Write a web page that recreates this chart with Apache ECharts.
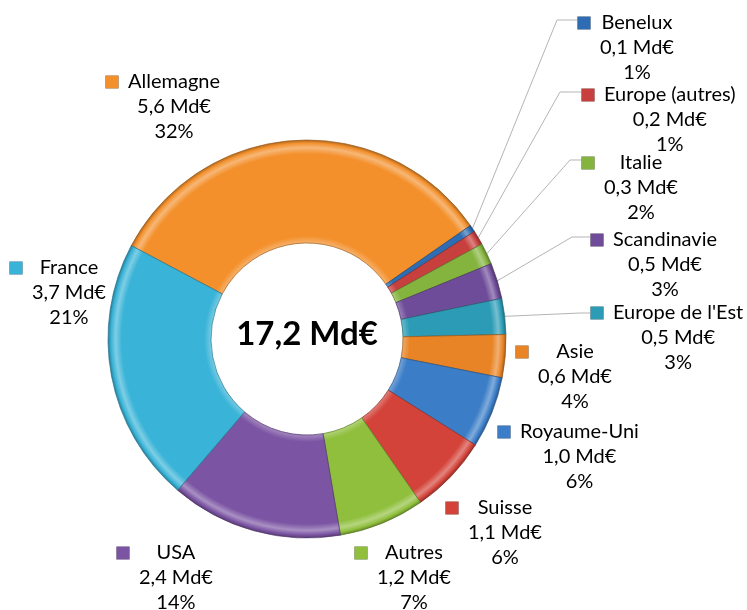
<!DOCTYPE html>
<html>
<head>
<meta charset="utf-8">
<script src="https://cdn.jsdelivr.net/npm/echarts@6/dist/echarts.min.js"></script>
<style>
    html, body { margin: 0; background: #fff; }
    #chart { width: 747px; height: 610px; }
</style>
</head>
<body>
<div id="chart"></div>
<script>
// data, clockwise from the Allemagne slice
const categories = ["Allemagne", "Benelux", "Europe (autres)", "Italie", "Scandinavie", "Europe de l'Est",
    "Asie", "Royaume-Uni", "Suisse", "Autres", "USA", "France"];
const valuesMd = [5.6, 0.1, 0.2, 0.3, 0.5, 0.5, 0.6, 1.0, 1.1, 1.2, 2.4, 3.7];
const pctLabels = ["32%", "1%", "1%", "2%", "3%", "3%", "4%", "6%", "6%", "7%", "14%", "21%"];
const totalLabel = "17,2 Md€";

// styling / placement (not data)
const sliceColors = ["#F3902C", "#2E6DB4", "#C8403D", "#84B33E", "#6F4C99", "#2C9CB6",
    "#E88426", "#3B7DC7", "#D34339", "#8FBF3C", "#7B54A3", "#39B3D7"];
const labelAnchors = [[106, 82], [578, 23], [582, 95], [582, 163], [591, 240], [591, 313],
    [516, 352], [498, 432], [446, 508], [355, 553], [117, 553], [10, 268]];
const leaderElbowX = [null, 557, 560, 570, 572, 580, null, null, null, null, null, null];

const CX = 307, CY = 339, R0 = 96, R = 199;
const FONT = "Lato, 'Open Sans', sans-serif";
const LINE_H = 25;

const mix = (hex, target, t) => {
    const a = parseInt(hex.slice(1), 16);
    const b = target === "white" ? 255 : 0;
    const ch = [(a >> 16) & 255, (a >> 8) & 255, a & 255].map((c) => Math.round(c + (b - c) * t));
    return "rgb(" + ch.join(",") + ")";
};

const bevel = (base) =>
    new echarts.graphic.RadialGradient(CX, CY, R, [
        { offset: 0, color: base },
        { offset: R0 / R, color: mix(base, "white", 0.3) },
        { offset: R0 / R + 0.035, color: base },
        { offset: 0.93, color: base },
        { offset: 0.962, color: mix(base, "white", 0.35) },
        { offset: 0.985, color: base },
        { offset: 1, color: mix(base, "black", 0.3) },
    ], true);

const fmtMd = (v) => v.toFixed(1).replace(".", ",") + " Md€";

const rich = {
    g: { width: 10, lineHeight: LINE_H, align: "left" },
    l: { width: 22, lineHeight: LINE_H, align: "left" },
    r: { width: 22, lineHeight: LINE_H, align: "right" },
    t: { fontFamily: FONT, fontSize: 20, color: "#000", lineHeight: LINE_H, align: "center" },
};
sliceColors.forEach((c, i) => {
    rich["k" + i] = {
        width: 12, height: 12, lineHeight: LINE_H, align: "left",
        backgroundColor: c, borderColor: mix(c, "black", 0.35), borderWidth: 0.6,
    };
});

const chart = echarts.init(document.getElementById("chart"), null, { renderer: "canvas" });

chart.setOption({
    backgroundColor: "#fff",
    animation: false,
    graphic: [{
        type: "text",
        x: CX, y: 334,
        style: {
            text: totalLabel,
            align: "center",
            verticalAlign: "middle",
            font: "bold 33px " + FONT,
            fill: "#000",
        },
    }],
    series: [{
        type: "pie",
        center: [CX, CY],
        radius: [R0, R],
        startAngle: 152,
        clockwise: true,
        avoidLabelOverlap: false,
        itemStyle: { borderWidth: 0.7 },
        label: {
            show: true,
            position: "outside",
            fontFamily: FONT,
            fontSize: 20,
            lineHeight: LINE_H,
            color: "#000",
            formatter: (p) =>
                "{k" + p.dataIndex + "|}{g|}{t|" + p.name + "}{r|}\n" +
                "{l|}{t|" + fmtMd(p.value) + "}{r|}\n" +
                "{l|}{t|" + pctLabels[p.dataIndex] + "}{r|}",
            rich: rich,
        },
        labelLine: { show: false, lineStyle: { color: "#B5B5B5", width: 1 } },
        labelLayout: (params) => {
            const i = params.dataIndex;
            const [kx, ky] = labelAnchors[i];
            const out = { x: kx, y: ky - LINE_H / 2, align: "left", verticalAlign: "top" };
            if (leaderElbowX[i] != null && params.labelLinePoints) {
                const p0 = params.labelLinePoints[0];
                const ly = i === 5 ? ky : ky - 3;
                out.labelLinePoints = [p0, [leaderElbowX[i], ly], [kx - 1, ly]];
            }
            return out;
        },
        emphasis: { disabled: true },
        data: categories.map((name, i) => ({
            name: name,
            value: valuesMd[i],
            itemStyle: { color: bevel(sliceColors[i]), borderColor: mix(sliceColors[i], "black", 0.35) },
            labelLine: { show: leaderElbowX[i] != null },
        })),
    }],
});
</script>
</body>
</html>
